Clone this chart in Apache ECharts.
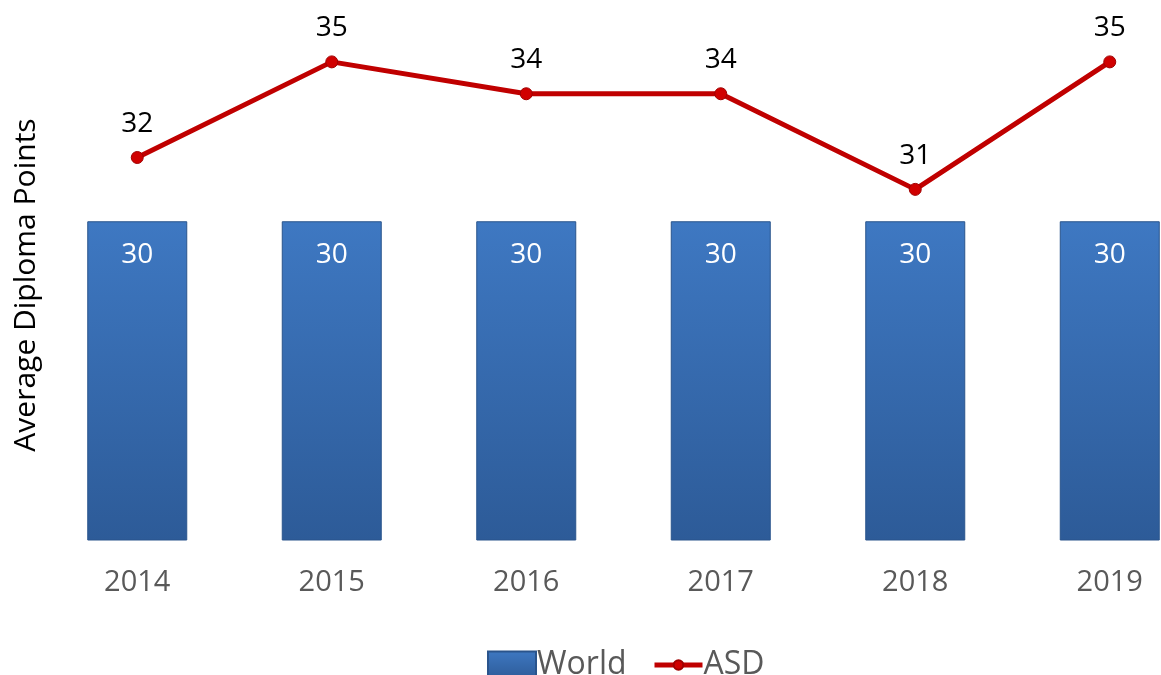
<!DOCTYPE html>
<html>
<head>
<meta charset="utf-8">
<script src="https://cdn.jsdelivr.net/npm/echarts@6/dist/echarts.min.js"></script>
<style>
  html, body { margin: 0; padding: 0; background: #fff; }
  #chart { width: 1161px; height: 675px; }
</style>
</head>
<body>
<div id="chart"></div>
<script>
// data
var years = ["2014", "2015", "2016", "2017", "2018", "2019"];
var worldVals = [30, 30, 30, 30, 30, 30];
var asdVals = [32, 35, 34, 34, 31, 35];

var font = "'Open Sans', 'Noto Sans', sans-serif";
var myChart = echarts.init(document.getElementById("chart"));

var barColor = {
  type: "linear", x: 0, y: 0, x2: 0, y2: 1,
  colorStops: [
    { offset: 0, color: "#3e78c2" },
    { offset: 1, color: "#2d5b98" }
  ]
};

var legendText = { fontSize: 32, color: "#595959", fontFamily: font, padding: [0, 0, 0, -4] };

var option = {
  animation: false,
  backgroundColor: "#fff",
  textStyle: { fontFamily: font },
  grid: { left: 40, top: 30, width: 1167, bottom: 135, outerBoundsMode: "none" },
  legend: [
    {
      left: 482,
      top: 644,
      itemWidth: 48,
      itemHeight: 27,
      textStyle: legendText,
      data: [{ name: "World", icon: "rect" }]
    },
    {
      left: 647,
      top: 644,
      itemWidth: 48,
      itemHeight: 12,
      lineStyle: { width: 5, color: "#c00000" },
      textStyle: legendText,
      data: [{ name: "ASD" }]
    }
  ],
  xAxis: {
    type: "category",
    data: years,
    axisLine: { show: false },
    axisTick: { show: false },
    axisLabel: { fontSize: 29, color: "#595959", margin: 28, fontFamily: font }
  },
  yAxis: {
    type: "value",
    min: 20,
    max: 36,
    name: "Average Diploma Points",
    nameLocation: "middle",
    nameGap: -1,
    nameTextStyle: { fontSize: 30, color: "#000", fontFamily: font },
    axisLine: { show: false },
    axisTick: { show: false },
    axisLabel: { show: false },
    splitLine: { show: false }
  },
  series: [
    {
      name: "World",
      type: "bar",
      data: worldVals,
      barWidth: 100,
      itemStyle: { color: barColor, borderColor: "#2a548c", borderWidth: 1 },
      label: {
        show: true,
        position: "insideTop",
        distance: 20,
        fontSize: 28,
        color: "#fff",
        fontFamily: font
      }
    },
    {
      name: "ASD",
      type: "line",
      data: asdVals,
      symbol: "circle",
      symbolSize: 12,
      lineStyle: { color: "#c00000", width: 5 },
      itemStyle: { color: "#d00000", borderColor: "#a00000", borderWidth: 1 },
      label: {
        show: true,
        position: "top",
        distance: 13,
        fontSize: 28,
        color: "#000",
        fontFamily: font
      }
    }
  ]
};

myChart.setOption(option);
</script>
</body>
</html>
